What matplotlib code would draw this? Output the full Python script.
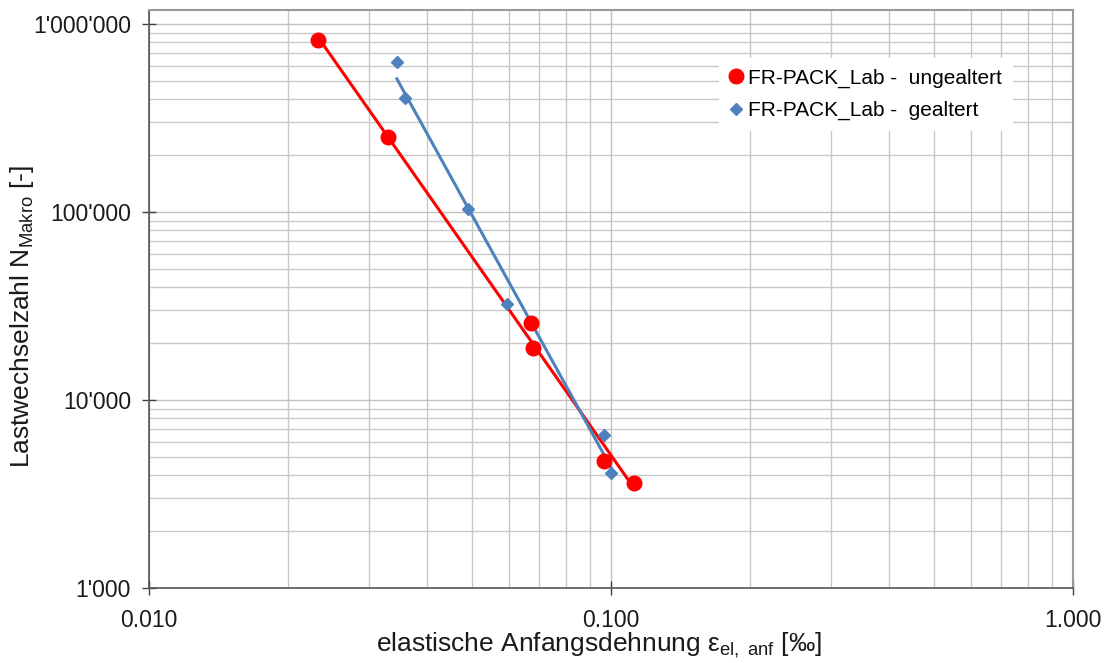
import numpy as np
import matplotlib
matplotlib.use("Agg")
import matplotlib.pyplot as plt
from matplotlib.ticker import FixedLocator, FixedFormatter, LogLocator, NullFormatter

# ---- data ----
red_label = "FR-PACK_Lab -  ungealtert"
red_x = [0.0232, 0.0329, 0.0671, 0.0678, 0.0966, 0.1121]
red_y = [822000, 250700, 25670, 18900, 4737, 3618]

blue_label = "FR-PACK_Lab -  gealtert"
blue_x = [0.0344, 0.0358, 0.0490, 0.0596, 0.0966, 0.1000]
blue_y = [628000, 404000, 103800, 32400, 6513, 4090]

x_ticks = [0.01, 0.1, 1.0]
x_ticklabels = ["0.010", "0.100", "1.000"]
y_ticks = [1000, 10000, 100000, 1000000]
y_ticklabels = ["1'000", "10'000", "100'000", "1'000'000"]

xlabel = "elastische Anfangsdehnung ε$_{\\mathrm{el,\\ anf}}$ [‰]"
ylabel = "Lastwechselzahl N$_{\\mathrm{Makro}}$ [-]"

RED = "#FF0000"
BLUE = "#4F81BD"

plt.rcParams["font.family"] = ["Liberation Sans", "DejaVu Sans"]
plt.rcParams["mathtext.fontset"] = "custom"
plt.rcParams["mathtext.rm"] = "Liberation Sans"
plt.rcParams["mathtext.it"] = "Liberation Sans:italic"
plt.rcParams["mathtext.bf"] = "Liberation Sans:bold"

fig = plt.figure(figsize=(11.2, 6.63), dpi=100)
ax = fig.add_axes([149 / 1120, 1 - 588 / 663, (1073 - 149) / 1120, (588 - 10) / 663])

ax.set_xscale("log")
ax.set_yscale("log")
ax.set_xlim(0.01, 1.0)
ax.set_ylim(1000, 1e6 * 10 ** (14 / 188))


def power_fit(xs, ys):
    lx, ly = np.log10(xs), np.log10(ys)
    b, a = np.polyfit(lx, ly, 1)
    xx = np.logspace(lx.min(), lx.max(), 50)
    return xx, 10 ** (a + b * np.log10(xx))


fx, fy = power_fit(np.array(red_x), np.array(red_y))
ax.plot(fx, fy, color=RED, lw=2.2, zorder=3)
fx, fy = power_fit(np.array(blue_x), np.array(blue_y))
ax.plot(fx, fy, color=BLUE, lw=2.2, zorder=3)

ax.plot(red_x, red_y, "o", color=RED, ms=10.5, label=red_label, zorder=4, linestyle="none")
ax.plot(blue_x, blue_y, "D", color=BLUE, ms=6.5, label=blue_label, zorder=4, linestyle="none")

# ticks
ax.xaxis.set_major_locator(FixedLocator(x_ticks))
ax.xaxis.set_major_formatter(FixedFormatter(x_ticklabels))
ax.yaxis.set_major_locator(FixedLocator(y_ticks))
ax.yaxis.set_major_formatter(FixedFormatter(y_ticklabels))
ax.xaxis.set_minor_locator(LogLocator(base=10, subs=np.arange(2, 10)))
ax.yaxis.set_minor_locator(LogLocator(base=10, subs=np.arange(2, 10)))
ax.xaxis.set_minor_formatter(NullFormatter())
ax.yaxis.set_minor_formatter(NullFormatter())

ax.tick_params(which="major", direction="inout", length=10, width=1, color="#404040",
               labelsize=16.5, labelcolor="#1a1a1a")
ax.tick_params(axis="x", which="major", pad=10)
ax.tick_params(axis="y", which="major", pad=8)
ax.tick_params(which="minor", length=0)

ax.grid(True, which="major", color="#c0c0c0", lw=1)
ax.grid(True, which="minor", color="#c8c8c8", lw=1)
ax.set_axisbelow(True)

for s in ["left", "bottom"]:
    ax.spines[s].set_color("#555555")
    ax.spines[s].set_linewidth(1.2)
for s in ["top", "right"]:
    ax.spines[s].set_color("#9a9a9a")
    ax.spines[s].set_linewidth(1.5)

ax.set_xlabel(xlabel, fontsize=19, color="#1a1a1a")
ax.set_ylabel(ylabel, fontsize=19, color="#1a1a1a")
ax.xaxis.set_label_coords((599 - 149) / 924, (588 - 631) / 578)
ax.yaxis.set_label_coords((36 - 149) / 924, (588 - 316) / 578)

leg = ax.legend(loc="upper left", bbox_to_anchor=(0.617, 0.917), borderaxespad=0,
                frameon=True, fancybox=False, facecolor="white", edgecolor="none",
                fontsize=15, handlelength=0.6, handletextpad=0.3, labelspacing=0.65,
                borderpad=0.5, framealpha=1)

fig.savefig("out.png", dpi=100)
